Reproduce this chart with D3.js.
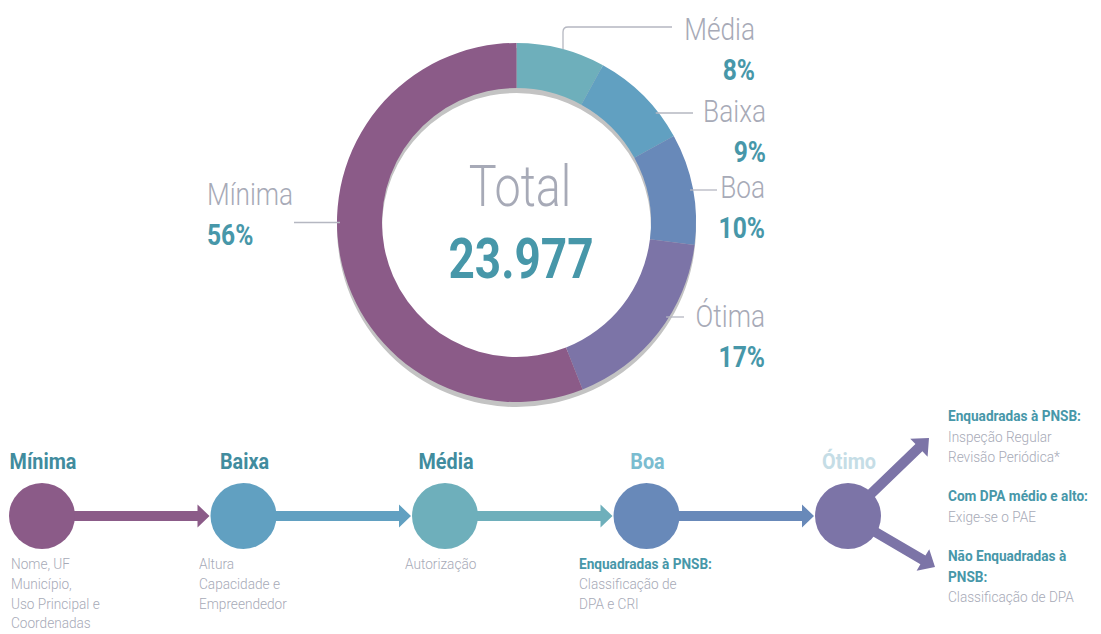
<!DOCTYPE html>
<html><head><meta charset="utf-8">
<script src="https://cdn.jsdelivr.net/npm/d3@7"></script>
<style>
html,body{margin:0;padding:0;background:#fff;}
svg{display:block;font-family:Roboto,"Noto Sans",sans-serif;}
</style></head>
<body>
<svg id="chart" width="1101" height="634"></svg>
<script>
// ---- data ----
const categories = ["Média", "Baixa", "Boa", "Ótima", "Mínima"];
const shares = [8, 9, 10, 17, 56];
const totalValue = 23977;
const totalLabel = "Total";

const stages = ["Mínima", "Baixa", "Média", "Boa", "Ótimo"];
const stageNotes = [
  [{t:"Nome, UF"},{t:"Município,"},{t:"Uso Principal e"},{t:"Coordenadas"}],
  [{t:"Altura"},{t:"Capacidade e"},{t:"Empreendedor"}],
  [{t:"Autorização"}],
  [{t:"Enquadradas à PNSB:",b:1},{t:"Classificação de"},{t:"DPA e CRI"}],
  []
];
const branchNotes = [
  [{t:"Enquadradas à PNSB:",b:1},{t:"Inspeção Regular"},{t:"Revisão Periódica*"}],
  [{t:"Com DPA médio e alto:",b:1},{t:"Exige-se o PAE"}],
  [{t:"Não Enquadradas à",b:1},{t:"PNSB:",b:1},{t:"Classificação de DPA"}]
];

// ---- styles ----
const sliceColors = ["#6eafbb", "#61a0c1", "#6889b9", "#7c74a7", "#8b5b88"];
const stageColors = ["#8b5b88", "#61a0c1", "#6eafbb", "#6889b9", "#7c74a7"];
const stageTitleColors = ["#418c9e", "#418c9e", "#418c9e", "#7bbcd0", "#c5dde6"];
const teal = "#4797a9", gray = "#a7aab7", lineGray = "#b5b7c1";
const SX = 0.82; // condensed look

const svg = d3.select("#chart");

function ctext(g, x, y, str, o) {
  o = o || {};
  return g.append("text")
    .attr("transform", `translate(${x},${y}) scale(${o.sx || SX},1)`)
    .attr("text-anchor", o.anchor || "start")
    .attr("font-size", o.size)
    .attr("font-weight", o.weight || 300)
    .attr("fill", o.fill || gray)
    .text(str);
}

// ---- donut ----
const cx = 516.5, cy = 222.5, R = 179.5, r = 134.5;
const pie = d3.pie().sort(null).value(d => d)(shares);
const arc = d3.arc().innerRadius(r).outerRadius(R);
const dg = svg.append("g").attr("transform", `translate(${cx},${cy})`);
// shadow ring
dg.append("path")
  .attr("d", d3.arc().innerRadius(r).outerRadius(R).startAngle(0).endAngle(2 * Math.PI)())
  .attr("transform", "translate(0,5)")
  .attr("fill", "#c3c3c3");
dg.selectAll("path.slice").data(pie).join("path")
  .attr("class", "slice")
  .attr("d", arc)
  .attr("fill", (d, i) => sliceColors[i]);

ctext(dg, 3.5, -17, totalLabel, {anchor: "middle", size: 57, fill: gray});
const ptBR = d3.formatLocale({decimal: ",", thousands: ".", grouping: [3], currency: ["R$", ""]});
ctext(dg, 4.5, 55, ptBR.format(",")(totalValue), {anchor: "middle", size: 56, weight: 700, fill: teal});

// label layout (name baseline, anchor x, leader y, leader end x)
const labelLayout = [
  {x: 755, y: 40, ly: 27, lx: 672, elbow: 563},
  {x: 766, y: 122, ly: 113, lx: 693},
  {x: 765, y: 198, ly: 190, lx: 717},
  {x: 765, y: 327, ly: 317, lx: 684},
  {x: 207, y: 205, ly: 222.5, lx: 294, left: true}
];
categories.forEach((c, i) => {
  const L = labelLayout[i];
  const anchor = L.left ? "start" : "end";
  ctext(svg, L.x, L.y, c, {anchor, size: 32, fill: gray});
  ctext(svg, L.x, L.y + 40, shares[i] + "%", {anchor, size: 30, weight: 700, fill: teal});
  let p;
  if (L.elbow !== undefined) {
    const dx = L.elbow - cx;
    const yEdge = cy - Math.sqrt(R * R - dx * dx);
    const rr = 5;
    p = `M${L.elbow},${yEdge} L${L.elbow},${L.ly + rr} Q${L.elbow},${L.ly} ${L.elbow + rr},${L.ly} L${L.lx},${L.ly}`;
  } else {
    const dy = L.ly - cy;
    const dx = Math.sqrt(R * R - dy * dy) - 3;
    const xEdge = L.left ? cx - dx : cx + dx;
    p = `M${xEdge},${L.ly} L${L.lx},${L.ly}`;
  }
  svg.append("path").attr("d", p).attr("fill", "none").attr("stroke", lineGray).attr("stroke-width", 1.3);
});

// ---- flow ----
const fy = 516, cr = 33;
const fx = d3.scalePoint().domain(stages).range([42, 848]);
const fg = svg.append("g");

function arrowPath(len, shaft, headW, headL) {
  const h = shaft / 2, hw = headW / 2;
  return `M0,${-h} L${len - headL},${-h} L${len - headL},${-hw} L${len},0 L${len - headL},${hw} L${len - headL},${h} L0,${h} Z`;
}

stages.forEach((s, i) => {
  const x = fx(s);
  if (i < stages.length - 1) {
    const x2 = fx(stages[i + 1]) - cr - 1;
    fg.append("path")
      .attr("transform", `translate(${x},${fy})`)
      .attr("d", arrowPath(x2 - x, 10, 23, 12))
      .attr("fill", stageColors[i]);
  }
});
// branch arrows from last stage
const last = fx(stages[stages.length - 1]);
const branchTips = [[929, 438], [935, 567]];
branchTips.forEach(t => {
  const dx = t[0] - last, dy = t[1] - fy;
  const len = Math.sqrt(dx * dx + dy * dy);
  const ang = Math.atan2(dy, dx) * 180 / Math.PI;
  fg.append("path")
    .attr("transform", `translate(${last},${fy}) rotate(${ang})`)
    .attr("d", arrowPath(len, 10, 25, 14))
    .attr("fill", stageColors[4]);
});

stages.forEach((s, i) => {
  const x = fx(s);
  fg.append("circle").attr("cx", x).attr("cy", fy).attr("r", cr).attr("fill", stageColors[i]);
  ctext(fg, x + 1, 469, s, {anchor: "middle", size: 22, weight: 700, fill: stageTitleColors[i], sx: 0.9});
});

const noteX = [11, 199, 405, 579];
stageNotes.forEach((notes, i) => {
  notes.forEach((n, j) => {
    ctext(fg, noteX[i] !== undefined ? noteX[i] : 0, 569 + j * 19.8, n.t,
      {size: 15.5, weight: n.b ? 700 : 300, fill: n.b ? teal : gray, sx: 0.88});
  });
});

const branchY = [421, 501, 561];
branchNotes.forEach((notes, i) => {
  notes.forEach((n, j) => {
    ctext(fg, 948, branchY[i] + j * 20.5, n.t,
      {size: 15.5, weight: n.b ? 700 : 300, fill: n.b ? teal : gray, sx: 0.88});
  });
});
</script>
</body></html>
